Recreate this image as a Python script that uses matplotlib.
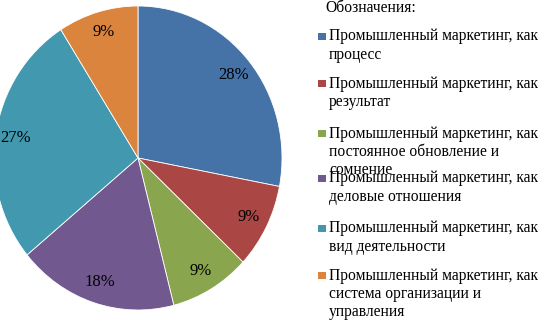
import matplotlib.pyplot as plt
from matplotlib.patches import Rectangle

# data
labels = [
    "Промышленный маркетинг, как\nпроцесс",
    "Промышленный маркетинг, как\nрезультат",
    "Промышленный маркетинг, как\nпостоянное обновление и\nсомнение",
    "Промышленный маркетинг, как\nделовые отношения",
    "Промышленный маркетинг, как\nвид деятельности",
    "Промышленный маркетинг, как\nсистема организации и\nуправления",
]
shares = [28, 9, 9, 18, 27, 9]
colors = ["#4572A7", "#AA4643", "#89A54E", "#71588F", "#4198AF", "#DB843D"]

plt.rcParams['font.family'] = ['Liberation Serif', 'DejaVu Serif']

fig = plt.figure(figsize=(5.41, 3.2), dpi=100)
W, H = 541, 320

# pie axes: centre ~(138,158) px, rx 144, ry 152
cx, cy, rx, ry = 138, 158, 144, 152
ax = fig.add_axes([(cx - rx) / W, (H - cy - ry) / H, 2 * rx / W, 2 * ry / H])
ax.pie(shares, colors=colors, startangle=90, counterclock=False,
       autopct=lambda p: f"{p:.0f}%", pctdistance=0.86,
       wedgeprops=dict(edgecolor="white", linewidth=0.6),
       textprops=dict(fontsize=12, color="black"))
ax.set_aspect('auto')
ax.set_xlim(-1, 1)
ax.set_ylim(-1, 1)
ax.axis('off')

# legend drawn by hand (reference has overlapping entries)
fs = 11.2
fig.text(325 / W, 1 - 12 / H, "Обозначения:", fontsize=fs, va='baseline', ha='left')
entry_y = [36, 83, 133, 178, 228, 275]
line_h = 18.5
for lab, col, y0 in zip(labels, colors, entry_y):
    fig.patches.append(Rectangle((318 / W, 1 - (y0 + 3.5) / H), 8 / W, 7 / H,
                                 transform=fig.transFigure, facecolor=col,
                                 edgecolor='none'))
    for i, line in enumerate(lab.split("\n")):
        fig.text(329 / W, 1 - (y0 + 4.5 + i * line_h) / H, line, fontsize=fs,
                 va='baseline', ha='left')

fig.savefig("out.png", dpi=100)
